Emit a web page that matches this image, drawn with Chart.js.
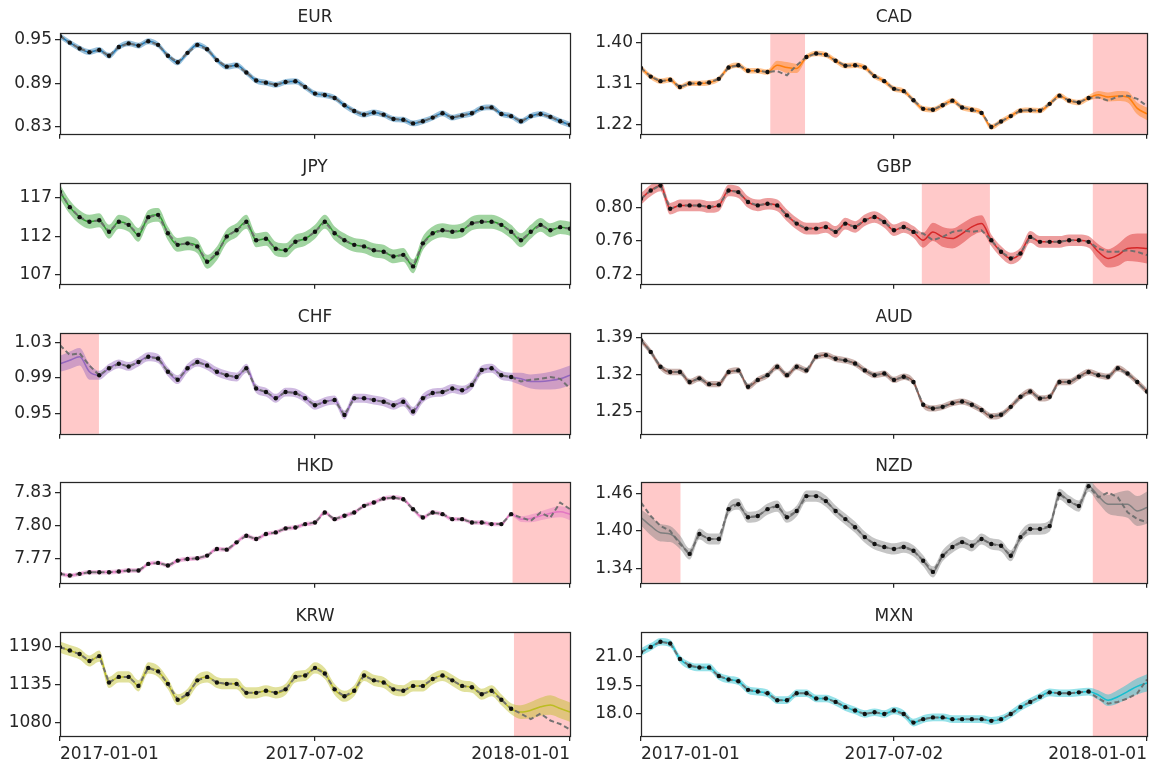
<!DOCTYPE html>
<html>
<head>
<meta charset="utf-8">
<script src="https://cdn.jsdelivr.net/npm/chart.js@4.4.0/dist/chart.umd.min.js"></script>
<style>
  html, body { margin: 0; padding: 0; background: #fff; }
  #page { position: relative; width: 1153px; height: 759px; overflow: hidden; }
  #page canvas { position: absolute; }
</style>
</head>
<body>
<div id="page"></div>
<script>
// days since 2017-01-01, one sample a week
const days = [0, 7, 14, 21, 28, 35, 42, 49, 56, 63, 70, 77, 84, 91, 98, 105, 112, 119, 126, 133,
  140, 147, 154, 161, 168, 175, 182, 189, 196, 203, 210, 217, 224, 231, 238, 245, 252, 259, 266, 273,
  280, 287, 294, 301, 308, 315, 322, 329, 336, 343, 350, 357, 364];
const xTickDays = [0, 182, 364];
const xTickLabels = ["2017-01-01", "2017-07-02", "2018-01-01"];

// observed rates (dashed line + dots)
const eurTruth = [0.955, 0.946, 0.938, 0.933, 0.936, 0.928, 0.940, 0.945, 0.942, 0.948,
  0.943, 0.928, 0.919, 0.932, 0.943, 0.937, 0.922, 0.913, 0.915, 0.905,
  0.894, 0.891, 0.888, 0.892, 0.893, 0.885, 0.876, 0.874, 0.870, 0.860,
  0.852, 0.847, 0.850, 0.847, 0.841, 0.840, 0.835, 0.838, 0.843, 0.849,
  0.843, 0.846, 0.849, 0.856, 0.857, 0.848, 0.845, 0.838, 0.845, 0.848,
  0.844, 0.838, 0.833];
const cadTruth = [1.344, 1.325, 1.315, 1.318, 1.302, 1.310, 1.310, 1.312, 1.320, 1.345,
  1.350, 1.338, 1.338, 1.335, 1.337, 1.328, 1.350, 1.368, 1.376, 1.373,
  1.360, 1.349, 1.350, 1.345, 1.326, 1.315, 1.298, 1.293, 1.273, 1.254,
  1.252, 1.262, 1.272, 1.257, 1.252, 1.245, 1.214, 1.226, 1.238, 1.250,
  1.251, 1.250, 1.265, 1.283, 1.272, 1.268, 1.278, 1.279, 1.272, 1.281,
  1.283, 1.276, 1.260];
const jpyTruth = [117.8, 115.8, 114.5, 113.9, 114.1, 112.6, 113.9, 113.5, 112.2, 114.5,
  114.8, 112.4, 110.9, 111.1, 110.7, 108.7, 109.8, 112.0, 112.8, 113.9,
  111.5, 111.7, 110.4, 110.2, 111.3, 111.7, 112.6, 113.9, 112.4, 111.5,
  110.9, 110.7, 110.2, 110.0, 109.4, 109.6, 108.1, 111.1, 112.4, 112.8,
  112.6, 112.8, 113.7, 113.9, 113.9, 113.5, 112.6, 111.5, 112.6, 113.5,
  112.8, 113.2, 113.0];
const gbpTruth = [0.811, 0.821, 0.827, 0.799, 0.803, 0.803, 0.803, 0.801, 0.803, 0.821,
  0.819, 0.807, 0.803, 0.805, 0.803, 0.791, 0.781, 0.775, 0.775, 0.777,
  0.771, 0.781, 0.777, 0.785, 0.789, 0.783, 0.773, 0.777, 0.771, 0.769,
  0.761, 0.765, 0.771, 0.773, 0.771, 0.773, 0.761, 0.747, 0.739, 0.745,
  0.765, 0.759, 0.759, 0.759, 0.761, 0.761, 0.759, 0.751, 0.747, 0.747,
  0.749, 0.747, 0.743];
const chfTruth = [1.027, 1.016, 1.018, 1.004, 0.993, 1.001, 1.006, 1.003, 1.008, 1.014,
  1.012, 0.997, 0.988, 1.001, 1.008, 1.004, 0.997, 0.993, 0.991, 1.001,
  0.978, 0.974, 0.967, 0.974, 0.973, 0.967, 0.959, 0.963, 0.965, 0.948,
  0.967, 0.967, 0.965, 0.963, 0.959, 0.963, 0.952, 0.967, 0.973, 0.974,
  0.978, 0.976, 0.982, 0.999, 1.001, 0.993, 0.991, 0.986, 0.988, 0.989,
  0.991, 0.989, 0.978];
const audTruth = [1.385, 1.363, 1.335, 1.325, 1.325, 1.306, 1.313, 1.302, 1.302, 1.325,
  1.328, 1.297, 1.310, 1.319, 1.335, 1.319, 1.335, 1.328, 1.354, 1.357,
  1.350, 1.347, 1.341, 1.328, 1.319, 1.322, 1.310, 1.316, 1.306, 1.263,
  1.256, 1.259, 1.266, 1.269, 1.263, 1.253, 1.241, 1.244, 1.259, 1.278,
  1.288, 1.275, 1.278, 1.306, 1.306, 1.316, 1.325, 1.319, 1.316, 1.332,
  1.322, 1.306, 1.288];
const hkdTruth = [7.7565, 7.755, 7.7565, 7.758, 7.758, 7.758, 7.7586, 7.7595, 7.7595, 7.7655,
  7.7664, 7.764, 7.7685, 7.770, 7.7706, 7.773, 7.779, 7.7784, 7.785, 7.791,
  7.788, 7.7925, 7.794, 7.7976, 7.7985, 7.8015, 7.803, 7.812, 7.806, 7.809,
  7.812, 7.818, 7.821, 7.8246, 7.8255, 7.824, 7.815, 7.8075, 7.812, 7.8105,
  7.806, 7.806, 7.803, 7.803, 7.8015, 7.8015, 7.8105, 7.8075, 7.8045, 7.812,
  7.8075, 7.821, 7.815];
const nzdTruth = [1.4456, 1.424, 1.408, 1.400, 1.379, 1.363, 1.395, 1.387, 1.387, 1.435,
  1.443, 1.422, 1.424, 1.435, 1.440, 1.422, 1.432, 1.456, 1.456, 1.448,
  1.432, 1.419, 1.406, 1.390, 1.379, 1.374, 1.371, 1.374, 1.368, 1.352,
  1.334, 1.360, 1.374, 1.382, 1.376, 1.387, 1.379, 1.376, 1.360, 1.390,
  1.403, 1.403, 1.408, 1.459, 1.448, 1.440, 1.472, 1.454, 1.462, 1.454,
  1.430, 1.419, 1.414];
const krwTruth = [1189, 1184, 1179, 1169, 1176, 1138, 1146, 1146, 1133, 1159,
  1154, 1136, 1113, 1121, 1141, 1146, 1138, 1136, 1136, 1123,
  1123, 1126, 1123, 1128, 1146, 1148, 1159, 1151, 1128, 1118,
  1126, 1148, 1141, 1138, 1128, 1126, 1133, 1133, 1143, 1148,
  1141, 1133, 1131, 1121, 1126, 1113, 1100, 1093, 1085, 1093,
  1083, 1078, 1070];
const mxnTruth = [21.23, 21.50, 21.77, 21.68, 20.87, 20.52, 20.43, 20.43, 19.98, 19.80,
  19.71, 19.26, 19.17, 19.08, 18.72, 18.72, 19.08, 19.08, 18.81, 18.81,
  18.63, 18.36, 18.18, 18.00, 18.09, 18.00, 18.18, 18.00, 17.55, 17.73,
  17.82, 17.82, 17.73, 17.73, 17.73, 17.73, 17.64, 17.73, 18.00, 18.36,
  18.63, 18.90, 19.13, 19.08, 19.08, 19.13, 19.17, 18.81, 18.54, 18.63,
  18.81, 19.08, 19.80];

// hidden periods (days) and the model's mean / spread inside them
const cadGaps = [[93, 118], [325, 365]];
const cadGapMean = [[1.350, 1.345, 1.343], [1.285, 1.280, 1.282, 1.280, 1.255, 1.243]];
const cadGapSd = [[0.010, 0.012, 0.010], [0.008, 0.010, 0.011, 0.012, 0.013, 0.014]];
const gbpGaps = [[202, 251], [325, 365]];
const gbpGapMean = [[0.761, 0.771, 0.765, 0.763, 0.769, 0.777, 0.781], [0.747, 0.739, 0.743, 0.751, 0.752, 0.751]];
const gbpGapSd = [[0.009, 0.011, 0.012, 0.012, 0.012, 0.011, 0.010], [0.009, 0.011, 0.013, 0.015, 0.017, 0.018]];
const chfGaps = [[0, 27.8], [323, 364]];
const chfGapMean = [[1.006, 1.010, 1.014, 0.997], [0.989, 0.986, 0.986, 0.987, 0.989, 0.993]];
const chfGapSd = [[0.009, 0.010, 0.010, 0.009], [0.007, 0.008, 0.009, 0.010, 0.011, 0.011]];
const hkdGaps = [[323, 364]];
const hkdGapMean = [[7.806, 7.8066, 7.809, 7.8114, 7.8126, 7.8105]];
const hkdGapSd = [[0.0025, 0.0035, 0.004, 0.0045, 0.005, 0.0055]];
const nzdGaps = [[0, 28.4], [325, 365]];
const nzdGapMean = [[1.4216, 1.408, 1.397, 1.395, 1.382], [1.456, 1.443, 1.443, 1.443, 1.432, 1.4376]];
const nzdGapSd = [[0.013, 0.015, 0.014, 0.013, 0.011], [0.011, 0.015, 0.019, 0.022, 0.024, 0.026]];
const krwGaps = [[324, 364]];
const krwGapMean = [[1095.2, 1097.8, 1102.8, 1105.4, 1100.3, 1095.2]];
const krwGapSd = [[10, 12, 13, 14, 14, 14]];
const mxnGaps = [[325, 365]];
const mxnGapMean = [[18.99, 18.72, 18.90, 19.17, 19.44, 19.62]];
const mxnGapSd = [[0.25, 0.30, 0.35, 0.38, 0.42, 0.45]];

// y tick labels per panel
const eurTicks = ["0.83", "0.89", "0.95"];
const cadTicks = ["1.22", "1.31", "1.40"];
const jpyTicks = ["107", "112", "117"];
const gbpTicks = ["0.72", "0.76", "0.80"];
const chfTicks = ["0.95", "0.99", "1.03"];
const audTicks = ["1.25", "1.32", "1.39"];
const hkdTicks = ["7.77", "7.80", "7.83"];
const nzdTicks = ["1.34", "1.40", "1.46"];
const krwTicks = ["1080", "1135", "1190"];
const mxnTicks = ["18.0", "19.5", "21.0"];

const panels = [
  { name: "EUR", truth: eurTruth, sd: 0.004, gaps: [], gapMean: [], gapSd: [], ticks: eurTicks, yMin: 0.8207, yMax: 0.9593, color: "31,119,180" },
  { name: "CAD", truth: cadTruth, sd: 0.006, gaps: cadGaps, gapMean: cadGapMean, gapSd: cadGapSd, ticks: cadTicks, yMin: 1.199, yMax: 1.421, color: "255,127,14" },
  { name: "JPY", truth: jpyTruth, sd: 0.9, gaps: [], gapMean: [], gapSd: [], ticks: jpyTicks, yMin: 105.84, yMax: 118.94, color: "44,160,44" },
  { name: "GBP", truth: gbpTruth, sd: 0.007, gaps: gbpGaps, gapMean: gbpGapMean, gapSd: gbpGapSd, ticks: gbpTicks, yMin: 0.7084, yMax: 0.830, color: "214,39,40" },
  { name: "CHF", truth: chfTruth, sd: 0.005, gaps: chfGaps, gapMean: chfGapMean, gapSd: chfGapSd, ticks: chfTicks, yMin: 0.9267, yMax: 1.0409, color: "148,103,189" },
  { name: "AUD", truth: audTruth, sd: 0.006, gaps: [], gapMean: [], gapSd: [], ticks: audTicks, yMin: 1.208, yMax: 1.3988, color: "140,86,75" },
  { name: "HKD", truth: hkdTruth, sd: 0.002, gaps: hkdGaps, gapMean: hkdGapMean, gapSd: hkdGapSd, ticks: hkdTicks, yMin: 7.7484, yMax: 7.8396, color: "227,119,194" },
  { name: "NZD", truth: nzdTruth, sd: 0.009, gaps: nzdGaps, gapMean: nzdGapMean, gapSd: nzdGapSd, ticks: nzdTicks, yMin: 1.3165, yMax: 1.4787, color: "127,127,127" },
  { name: "KRW", truth: krwTruth, sd: 8, gaps: krwGaps, gapMean: krwGapMean, gapSd: krwGapSd, ticks: krwTicks, yMin: 1060.7, yMax: 1210.8, color: "188,189,34" },
  { name: "MXN", truth: mxnTruth, sd: 0.2, gaps: mxnGaps, gapMean: mxnGapMean, gapSd: mxnGapSd, ticks: mxnTicks, yMin: 16.85, yMax: 22.28, color: "23,190,207" }
];

const FONT = "DejaVu Sans";
const INK = "#262626";
const colLeft = [60, 641];
const colWidth = [511, 507];
const rowTop = [33, 183, 333, 482, 632];
const axH = 104;
const YAXIS_W = 60;
const TITLE_H = 33;

// red spans for hidden periods, drawn under the data
const gapShade = {
  id: "gapShade",
  beforeDatasetsDraw(chart, args, opts) {
    const { ctx, chartArea, scales } = chart;
    ctx.save();
    ctx.fillStyle = "rgba(255,0,0,0.21)";
    (opts.gaps || []).forEach(g => {
      const x0 = Math.max(scales.x.getPixelForValue(g[0]), chartArea.left);
      const x1 = Math.min(scales.x.getPixelForValue(g[1]), chartArea.right);
      ctx.fillRect(x0, chartArea.top, x1 - x0, chartArea.bottom - chartArea.top);
    });
    ctx.restore();
  }
};

// box around each axes
const frame = {
  id: "frame",
  afterDraw(chart) {
    const { ctx, chartArea: a } = chart;
    ctx.save();
    ctx.strokeStyle = INK;
    ctx.lineWidth = 1.25;
    ctx.strokeRect(Math.round(a.left) + 0.5, Math.round(a.top) + 0.5,
      Math.round(a.right - a.left), Math.round(a.bottom - a.top));
    ctx.restore();
  }
};

function inGap(gaps, d) {
  for (let gi = 0; gi < gaps.length; gi++) {
    if (d >= gaps[gi][0] && d <= gaps[gi][1]) return gi;
  }
  return -1;
}

panels.forEach((p, idx) => {
  const col = idx % 2;
  const row = Math.floor(idx / 2);
  const bottomRow = row === 4;
  const xAxisH = bottomRow ? 30 : 10;

  const canvas = document.createElement("canvas");
  const cw = YAXIS_W + colWidth[col] + 3;
  const ch = TITLE_H + axH + xAxisH;
  canvas.width = cw;
  canvas.height = ch;
  canvas.style.left = (colLeft[col] - YAXIS_W) + "px";
  canvas.style.top = (rowTop[row] - TITLE_H) + "px";
  canvas.style.width = cw + "px";
  canvas.style.height = ch + "px";
  document.getElementById("page").appendChild(canvas);

  const mean = [], upper = [], lower = [], dots = [], truth = [];
  const seen = p.gaps.map(() => 0);
  days.forEach((d, i) => {
    const gi = inGap(p.gaps, d);
    let m = p.truth[i], s = p.sd;
    if (gi >= 0) {
      const j = seen[gi]++;
      m = p.gapMean[gi][j];
      s = p.gapSd[gi][j];
    } else {
      dots.push({ x: d, y: p.truth[i] });
    }
    truth.push({ x: d, y: p.truth[i] });
    mean.push({ x: d, y: m });
    upper.push({ x: d, y: m + s });
    lower.push({ x: d, y: m - s });
  });

  new Chart(canvas, {
    type: "line",
    data: {
      datasets: [
        { data: dots, showLine: false, pointRadius: 2.2, pointBackgroundColor: "#111", pointBorderWidth: 0 },
        { data: truth, borderColor: "rgba(110,110,110,0.95)", borderWidth: 2, borderDash: [5, 3], pointRadius: 0, fill: false },
        { data: mean, borderColor: "rgb(" + p.color + ")", borderWidth: 1.5, pointRadius: 0, fill: false, cubicInterpolationMode: "monotone" },
        { data: upper, borderWidth: 0, pointRadius: 0, backgroundColor: "rgba(" + p.color + ",0.45)", fill: "+1", cubicInterpolationMode: "monotone" },
        { data: lower, borderWidth: 0, pointRadius: 0, fill: false, cubicInterpolationMode: "monotone" }
      ]
    },
    options: {
      responsive: false,
      animation: false,
      devicePixelRatio: 1,
      layout: { padding: { left: 0, right: 3, top: 0, bottom: 0 } },
      plugins: {
        legend: { display: false },
        tooltip: { enabled: false },
        title: {
          display: true,
          text: p.name,
          fullSize: false,
          color: INK,
          font: { family: FONT, size: 17, weight: "normal", lineHeight: "20px" },
          padding: { top: 8, bottom: 5 }
        },
        gapShade: { gaps: p.gaps }
      },
      scales: {
        x: {
          type: "linear",
          min: 0,
          max: 364,
          afterBuildTicks: s => { s.ticks = xTickDays.map(v => ({ value: v })); },
          afterFit: s => { s.height = xAxisH; },
          border: { display: false },
          grid: { drawOnChartArea: false, drawTicks: true, tickLength: 5, color: INK, lineWidth: 1.25 },
          ticks: {
            display: bottomRow,
            autoSkip: false,
            maxRotation: 0,
            align: "inner",
            padding: 3,
            color: INK,
            font: { family: FONT, size: 17 },
            callback: (v, i) => xTickLabels[i]
          }
        },
        y: {
          min: p.yMin,
          max: p.yMax,
          afterBuildTicks: s => { s.ticks = p.ticks.map(t => ({ value: Number(t) })); },
          afterFit: s => { s.width = YAXIS_W; },
          border: { display: false },
          grid: { drawOnChartArea: false, drawTicks: true, tickLength: 5, color: INK, lineWidth: 1.25 },
          ticks: {
            padding: 3,
            color: INK,
            font: { family: FONT, size: 17 },
            callback: (v, i) => p.ticks[i]
          }
        }
      }
    },
    plugins: [gapShade, frame]
  });
});
</script>
</body>
</html>
